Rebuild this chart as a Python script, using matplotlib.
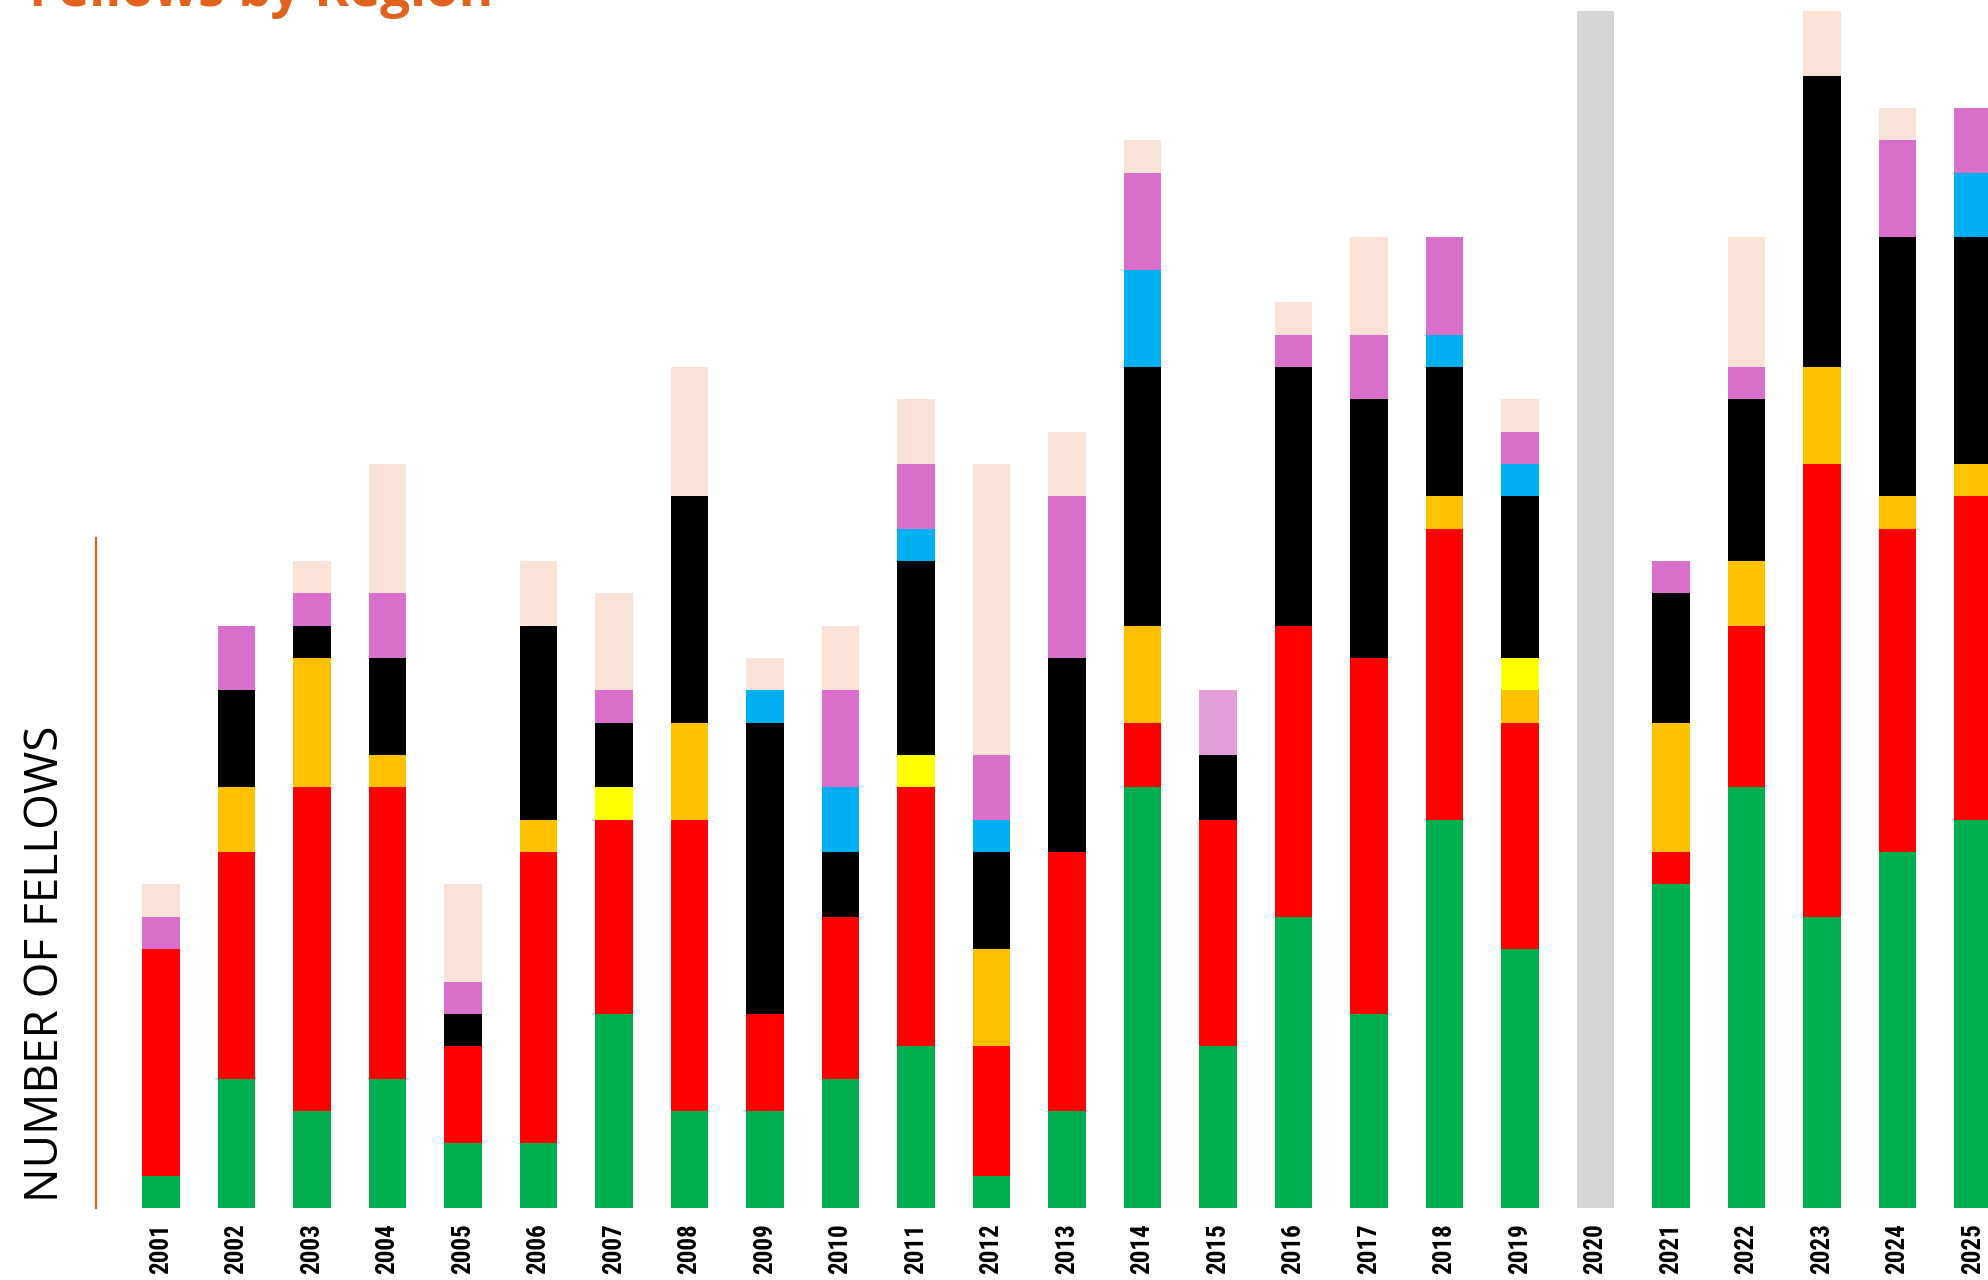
import matplotlib

matplotlib.use("Agg")
import matplotlib.pyplot as plt
import numpy as np
from matplotlib import font_manager
from matplotlib.textpath import TextPath

years = [str(y) for y in range(2001, 2026)]

# fellows per region, bottom to top of each stack
green = [1, 4, 3, 4, 2, 2, 6, 3, 3, 4, 5, 1, 3, 13, 5, 9, 6, 12, 8, 0, 10, 13, 9, 11, 12]
red = [7, 7, 10, 9, 3, 9, 6, 9, 3, 5, 8, 4, 8, 2, 7, 9, 11, 9, 7, 0, 1, 5, 14, 10, 10]
orange = [0, 2, 4, 1, 0, 1, 0, 3, 0, 0, 0, 3, 0, 3, 0, 0, 0, 1, 1, 0, 4, 2, 3, 1, 1]
yellow = [0, 0, 0, 0, 0, 0, 1, 0, 0, 0, 1, 0, 0, 0, 0, 0, 0, 0, 1, 0, 0, 0, 0, 0, 0]
black = [0, 3, 1, 3, 1, 6, 2, 7, 9, 2, 6, 3, 6, 8, 2, 8, 8, 4, 5, 0, 4, 5, 9, 8, 7]
blue = [0, 0, 0, 0, 0, 0, 0, 0, 1, 2, 1, 1, 0, 3, 0, 0, 0, 1, 1, 0, 0, 0, 0, 0, 2]
purple = [1, 2, 1, 2, 1, 0, 1, 0, 0, 3, 2, 2, 5, 3, 0, 1, 2, 3, 1, 0, 1, 1, 0, 3, 2]
light_purple = [0, 0, 0, 0, 0, 0, 0, 0, 0, 0, 0, 0, 0, 0, 2, 0, 0, 0, 0, 0, 0, 0, 0, 0, 0]
peach = [1, 0, 1, 4, 3, 2, 3, 4, 1, 2, 2, 9, 2, 1, 0, 1, 3, 0, 1, 0, 0, 4, 2, 1, 0]
no_intake = [0, 0, 0, 0, 0, 0, 0, 0, 0, 0, 0, 0, 0, 0, 0, 0, 0, 0, 0, 37, 0, 0, 0, 0, 0]

series = [
    (green, "#00B050"),
    (red, "#FF0000"),
    (orange, "#FFC000"),
    (yellow, "#FFFF00"),
    (black, "#000000"),
    (blue, "#00B0F0"),
    (purple, "#DA6FCB"),
    (light_purple, "#E39EDA"),
    (peach, "#FBE2D6"),
    (no_intake, "#D5D6D8"),
]

ORANGE = "#E0621C"


def narrow_bold_font():
    """Pick a condensed bold face if one is installed, else a plain bold sans."""
    names = {f.name for f in font_manager.fontManager.ttflist}
    for name in ("Liberation Sans Narrow", "Roboto Condensed", "Open Sans Condensed",
                 "Noto Sans Condensed", "DejaVu Sans Condensed"):
        if name in names:
            return font_manager.FontProperties(family=name, weight="bold")
    for f in font_manager.fontManager.ttflist:
        if "condensed" in str(f.stretch) and f.weight in (700, "bold"):
            return font_manager.FontProperties(fname=f.fname)
    return font_manager.FontProperties(family="Liberation Sans", weight="bold")


tick_font = narrow_bold_font()
# size the year labels so "2001" is about 46 px long, as in the reference
ink = TextPath((0, 0), "2001", size=10, prop=tick_font).get_extents().width
tick_font.set_size(10 * (46 * 72 / 100) / ink)

fig = plt.figure(figsize=(19.88, 12.8), dpi=100)
ax = fig.add_axes([96 / 1988, 72 / 1280, 1 - 96 / 1988, 1208 / 1280])

x = np.arange(len(years))
bottom = np.zeros(len(years))
for values, color in series:
    ax.bar(x, values, width=0.5, bottom=bottom, color=color, linewidth=0)
    bottom += np.array(values)

ax.set_xlim(-0.86, 24.2)
ax.set_ylim(0, 37.34)
ax.set_xticks(x)
ax.set_xticklabels(years, rotation=90, fontproperties=tick_font)
ax.tick_params(axis="x", length=0, pad=11)
ax.set_yticks([])
for side in ("top", "right", "bottom"):
    ax.spines[side].set_visible(False)
ax.spines["left"].set_color(ORANGE)
ax.spines["left"].set_linewidth(1.6)
ax.spines["left"].set_bounds(0, 20.7)

fig.text(29 / 1988, 1 - 6 / 1280, "Fellows by Region", color=ORANGE,
         fontsize=38, fontweight="bold", family="Open Sans", va="baseline")
fig.text(46 / 1988, 1 - 1202 / 1280, "NUMBER OF FELLOWS", rotation=90,
         fontsize=33, family="Open Sans", ha="center", va="bottom")

fig.savefig("out.png", dpi=100)
